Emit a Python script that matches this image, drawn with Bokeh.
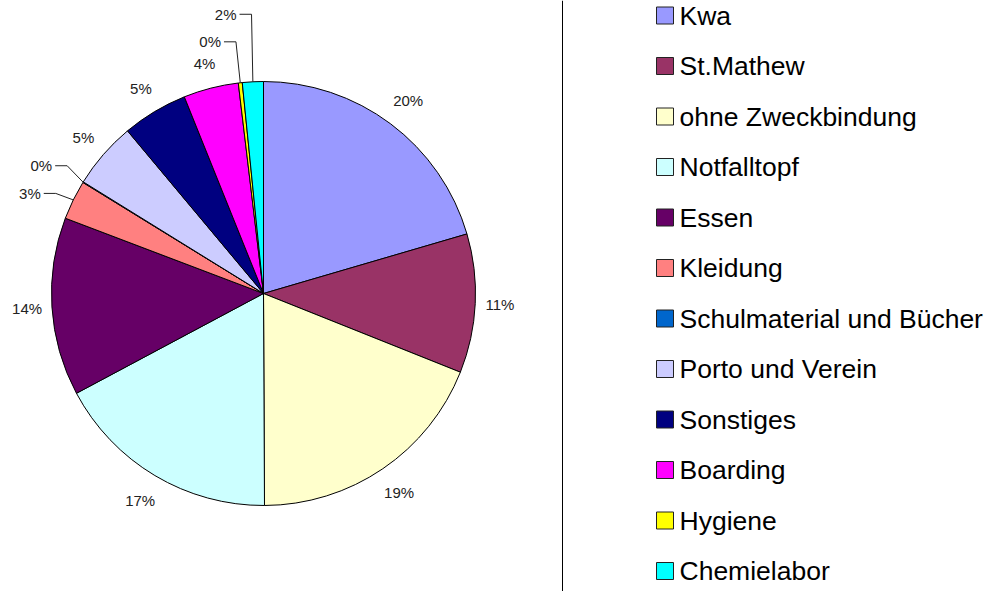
import math
from bokeh.plotting import figure
from bokeh.models import Range1d, Span
from bokeh.embed import file_html
from bokeh.resources import INLINE
from bokeh.core.properties import value

# ---- data ----
categories = ["Kwa", "St.Mathew", "ohne Zweckbindung", "Notfalltopf", "Essen", "Kleidung",
              "Schulmaterial und Bücher", "Porto und Verein", "Sonstiges", "Boarding",
              "Hygiene", "Chemielabor"]
shares = [20.5, 10.6, 18.9, 17.3, 13.6, 3.0, 0.05, 5.1, 5.0, 4.2, 0.3, 1.6]
colors = ["#9999FF", "#993366", "#FFFFCC", "#CCFFFF", "#660066", "#FF8080",
          "#0066CC", "#CCCCFF", "#000080", "#FF00FF", "#FFFF00", "#00FFFF"]

# ---- layout / style ----
W, H = 993, 591
CX, CY, R = 263, H - 293, 212
FONT = "Liberation Sans"
LBL_PX = 15
GAP = 9
HALF_H = 14
# label displacement (pixels, y up) for labels Excel moved and joined with a leader line
label_shift = {"Kleidung": (-21, -4.5), "Schulmaterial und Bücher": (-20, 3),
               "Hygiene": (-27.5, 17), "Chemielabor": (-26, 44)}
LEG_SQ_X, LEG_TXT_X, LEG_TOP, LEG_STEP, LEG_SQ = 664.5, 679, 15, 50.5, 17
LEG_PX = 26.5

n = len(shares)
total = float(sum(shares))
fr = [s / total for s in shares]
cum = [0.0]
for f in fr:
    cum.append(cum[-1] + f)
starts = [math.pi / 2 - 2 * math.pi * cum[i + 1] for i in range(n)]
ends = [math.pi / 2 - 2 * math.pi * cum[i] for i in range(n)]

p = figure(width=W, height=H, output_backend="svg", toolbar_location=None,
           x_range=Range1d(0, W), y_range=Range1d(0, H),
           x_axis_type=None, y_axis_type=None, min_border=0,
           background_fill_color="white", border_fill_color="white")
p.outline_line_color = None
p.grid.visible = False

p.wedge(x=[CX] * n, y=[CY] * n, radius=R, start_angle=starts, end_angle=ends,
        fill_color=colors, line_color="black", line_width=1)

# data labels
lx, ly, lt = [], [], []
lead_xs, lead_ys = [], []
for i in range(n):
    th = 2 * math.pi * (cum[i] + cum[i + 1]) / 2
    ux, uy = math.sin(th), math.cos(th)
    txt = "%d%%" % int(100 * fr[i] + 0.5)
    w = LBL_PX * (0.556 * (len(txt) - 1) + 0.889)
    ext = (w / 2) * abs(ux) + HALF_H * abs(uy)
    d = R + GAP + ext
    x, y = CX + d * ux, CY + d * uy
    if categories[i] in label_shift:
        dx, dy = label_shift[categories[i]]
        x, y = x + dx, y + dy
        x0 = x + w / 2 + 3
        lead_xs.append([x0, x0 + 12, CX + R * ux])
        lead_ys.append([y, y, CY + R * uy])
    lx.append(x); ly.append(y); lt.append(txt)

p.multi_line(xs=lead_xs, ys=lead_ys, line_color="#222222", line_width=1)
p.text(x=lx, y=ly, text=lt, text_align="center", text_baseline="middle",
       text_font=value(FONT), text_font_size="%gpx" % LBL_PX, text_color="#222222")

# legend
leg_y = [H - (LEG_TOP + LEG_STEP * i) for i in range(n)]
p.rect(x=[LEG_SQ_X] * n, y=leg_y, width=LEG_SQ, height=LEG_SQ,
       fill_color=colors, line_color="#222222", line_width=1)
p.text(x=[LEG_TXT_X] * n, y=leg_y, text=categories, text_align="left",
       text_baseline="middle", text_font=value(FONT),
       text_font_size="%gpx" % LEG_PX, text_color="black")
p.add_layout(Span(location=562, dimension="height", line_color="black", line_width=1))

open("out.html", "w").write(file_html(p, INLINE))
